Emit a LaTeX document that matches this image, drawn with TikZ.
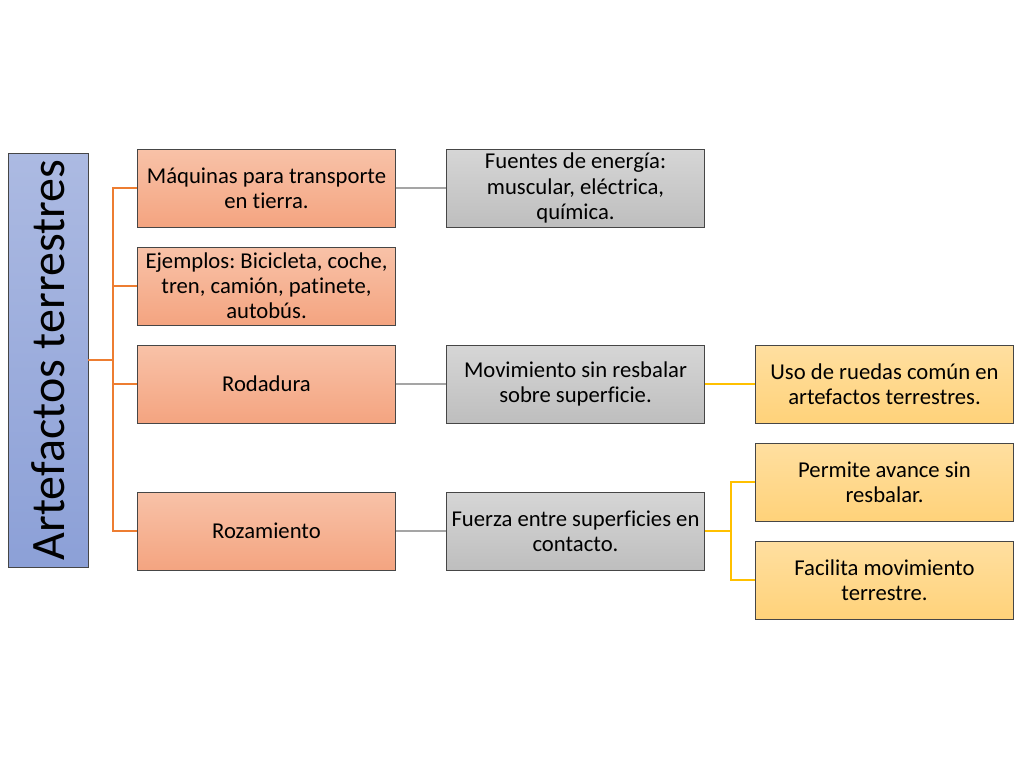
\documentclass[tikz,border=0pt]{standalone}
\usepackage{fontspec}
\setmainfont{Carlito}[Ligatures=NoCommon]
\usepackage{tikz}
\frenchspacing

\definecolor{orangetop}{RGB}{248,194,168}
\definecolor{orangebot}{RGB}{244,164,128}
\definecolor{graytop}{RGB}{214,214,214}
\definecolor{graybot}{RGB}{190,190,190}
\definecolor{yellowtop}{RGB}{255,223,160}
\definecolor{yellowbot}{RGB}{255,210,122}
\definecolor{bluetop}{RGB}{172,186,226}
\definecolor{bluebot}{RGB}{140,160,215}
\definecolor{orangeline}{RGB}{237,125,49}
\definecolor{grayline}{RGB}{165,165,165}
\definecolor{yellowline}{RGB}{255,192,0}
\definecolor{boxborder}{RGB}{70,70,70}

\tikzset{
  box/.style={draw=boxborder, line width=0.6pt, minimum width=193pt, minimum height=58.5pt,
    align=center, inner sep=1pt, font=\fontsize{17}{18.8}\selectfont},
  orangebox/.style={box, top color=orangetop, bottom color=orangebot},
  graybox/.style={box, top color=graytop, bottom color=graybot},
  yellowbox/.style={box, top color=yellowtop, bottom color=yellowbot},
  rootbox/.style={draw=boxborder, line width=0.6pt, minimum width=60pt, minimum height=310.5pt,
    inner sep=0pt, top color=bluetop, bottom color=bluebot},
  oline/.style={draw=orangeline, line width=1.4pt},
  gline/.style={draw=grayline, line width=1.4pt},
  yline/.style={draw=yellowline, line width=1.4pt}
}

\begin{document}
\begin{tikzpicture}[x=0.75pt,y=0.75pt,yscale=-1,xscale=1]
\useasboundingbox (0,0) rectangle (1020,769);

% root
\node [rootbox] (root) at (48,360) {};
\node [rotate=90, font=\fontsize{36}{40}\selectfont] (roottext) at (48,360) {Artefactos terrestres};

% first level
\node [orangebox] (maq) at (266.5,188) {Máquinas para transporte\\en tierra.};
\node [orangebox] (ejem) at (266.5,286) {Ejemplos: Bicicleta, coche,\\tren, camión, patinete,\\autobús.};
\node [orangebox] (roda) at (266.5,384) {Rodadura};
\node [orangebox] (roza) at (266.5,531) {Rozamiento};

% second level
\node [graybox] (fuen) at (575.5,188) {Fuentes de energía:\\muscular, eléctrica,\\química.};
\node [graybox] (movi) at (575.5,384) {Movimiento sin resbalar\\sobre superficie.};
\node [graybox] (fuer) at (575.5,531) {Fuerza entre superficies en\\contacto.};

% third level
\node [yellowbox] (uso) at (884.5,384) {Uso de ruedas común en\\artefactos terrestres.};
\node [yellowbox] (perm) at (884.5,482) {Permite avance sin\\resbalar.};
\node [yellowbox] (faci) at (884.5,580) {Facilita movimiento\\terrestre.};

% connectors
\foreach \child in {maq,ejem,roda,roza}
  \draw [oline] (root.east) -- ++(25,0) |- (\child.west);
\draw [gline] (maq.east) -- (fuen.west);
\draw [gline] (roda.east) -- (movi.west);
\draw [gline] (roza.east) -- (fuer.west);
\draw [yline] (movi.east) -- (uso.west);
\draw [yline] (fuer.east) -- ++(26,0) |- (perm.west);
\draw [yline] (fuer.east) -- ++(26,0) |- (faci.west);

\end{tikzpicture}
\end{document}
